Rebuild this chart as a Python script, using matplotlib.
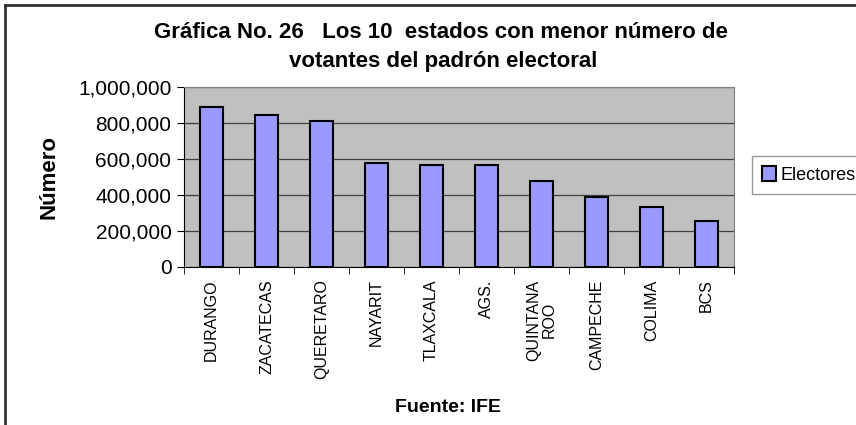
import matplotlib.pyplot as plt
import numpy as np
from matplotlib.lines import Line2D
from matplotlib.ticker import FuncFormatter

plt.rcParams['font.family'] = ['Liberation Sans', 'DejaVu Sans']

# Datos
estados = ['DURANGO', 'ZACATECAS', 'QUERETARO', 'NAYARIT', 'TLAXCALA',
           'AGS.', 'QUINTANA\nROO', 'CAMPECHE', 'COLIMA', 'BCS']
electores = [887000, 844000, 811000, 578000, 567000,
             566000, 478000, 389000, 333000, 256000]
yticks = [0, 200000, 400000, 600000, 800000, 1000000]

fig = plt.figure(figsize=(8.56, 4.25), dpi=100)
ax = fig.add_axes([184/856, 1 - 267/425, 550/856, 180/425])

x = np.arange(len(estados))
ax.set_facecolor('#c0c0c0')
ax.set_axisbelow(True)
ax.yaxis.grid(True, color='#404040', linewidth=0.9)
ax.bar(x, electores, width=0.42, color='#9999ff', edgecolor='black',
       linewidth=1.5, label='Electores', zorder=3)

ax.set_xlim(-0.5, len(estados) - 0.5)
ax.set_ylim(0, 1000000)
ax.set_yticks(yticks)
ax.yaxis.set_major_formatter(FuncFormatter(lambda v, p: f'{int(v):,}'))
ax.tick_params(axis='y', direction='out', length=5, labelsize=15, pad=4)

# etiquetas al centro, marcas entre categorias
ax.set_xticks(x)
ax.set_xticklabels(estados, rotation=90, fontsize=11.5, linespacing=1.0,
                   va='top', ha='center')
ax.tick_params(axis='x', which='major', length=0, pad=9)
ax.set_xticks(np.arange(len(estados) + 1) - 0.5, minor=True)
ax.tick_params(axis='x', which='minor', direction='out', length=5)

for s in ['top', 'right']:
    ax.spines[s].set_color('#808080')
ax.spines['left'].set_color('black')
ax.spines['bottom'].set_color('black')

ax.set_ylabel('Número', fontsize=16, fontweight='bold')
ax.yaxis.set_label_coords(-0.227, 0.5)

fig.text(441/856, 1 - 32/425, 'Gráfica No. 26   Los 10  estados con menor número de',
         fontsize=16, fontweight='bold', ha='center', va='center')
fig.text(443/856, 1 - 62/425, 'votantes del padrón electoral',
         fontsize=16, fontweight='bold', ha='center', va='center')
fig.text(448/856, 1 - 407/425, 'Fuente: IFE', fontsize=14, fontweight='bold',
         ha='center', va='center')

leg = fig.legend(loc='center left', bbox_to_anchor=(752/856, 1 - 175/425),
                 fontsize=13, frameon=True, fancybox=False, handlelength=0.8,
                 handleheight=0.9, handletextpad=0.25, borderpad=0.55,
                 borderaxespad=0)
leg.get_frame().set_edgecolor('#808080')
leg.get_frame().set_linewidth(1)

# marco exterior
fig.add_artist(Line2D([5/856, 1], [1 - 5/425, 1 - 5/425], color='#333333', lw=2))
fig.add_artist(Line2D([5/856, 5/856], [0, 1 - 5/425], color='#333333', lw=2))

fig.savefig('out.png', dpi=100)
